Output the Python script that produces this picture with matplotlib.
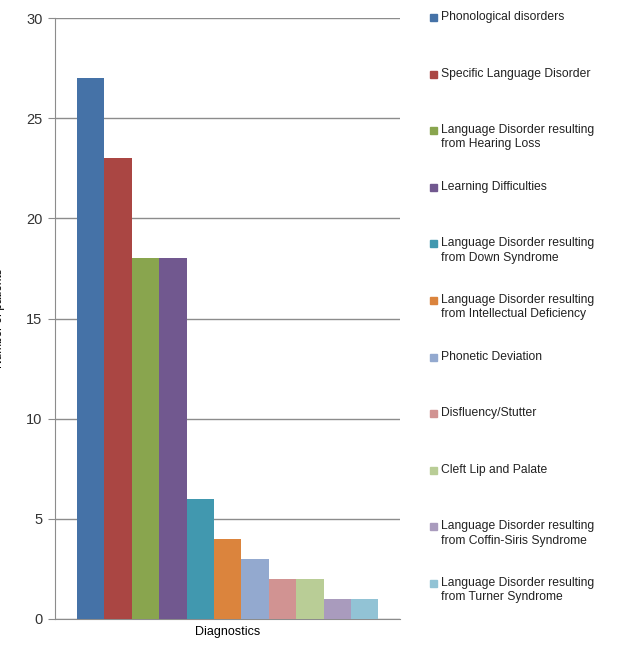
import numpy as np
import matplotlib
matplotlib.use("Agg")
import matplotlib.pyplot as plt
from matplotlib.patches import Rectangle

diagnoses = [
    "Phonological disorders",
    "Specific Language Disorder",
    "Language Disorder resulting\nfrom Hearing Loss",
    "Learning Difficulties",
    "Language Disorder resulting\nfrom Down Syndrome",
    "Language Disorder resulting\nfrom Intellectual Deficiency",
    "Phonetic Deviation",
    "Disfluency/Stutter",
    "Cleft Lip and Palate",
    "Language Disorder resulting\nfrom Coffin-Siris Syndrome",
    "Language Disorder resulting\nfrom Turner Syndrome",
]
patients = [27, 23, 18, 18, 6, 4, 3, 2, 2, 1, 1]
colors = ["#4572A7", "#AA4643", "#89A54E", "#71588F", "#4198AF", "#DB843D",
          "#93A9CF", "#D19392", "#B9CD96", "#A99BBD", "#92C3D5"]

plt.rcParams['font.family'] = ["Liberation Sans", "DejaVu Sans"]
narrow = ["Liberation Sans", "DejaVu Sans"]

fig = plt.figure(figsize=(6.24, 6.48), dpi=100)
ax = fig.add_axes([55 / 624, 29 / 648, 345 / 624, 601 / 648])

# bars side by side in one group
n = len(patients)
w = 27.4
x0 = 22
xs = x0 + w * np.arange(n)
ax.bar(xs, patients, width=w, align='edge', color=colors, zorder=3)
ax.set_xlim(0, 345)
ax.set_ylim(0, 30)
ax.set_yticks(range(0, 31, 5))
ax.set_xticks([])
ax.yaxis.grid(True, color="#8c8c8c", linewidth=1, zorder=0)
for s in ["top", "right"]:
    ax.spines[s].set_visible(False)
ax.spines["left"].set_color("#8c8c8c")
ax.spines["bottom"].set_color("#8c8c8c")
ax.tick_params(axis='y', length=5, color="#8c8c8c", labelsize=10.5,
               labelcolor="#333333", pad=4)
ax.set_xlabel("Diagnostics", family=narrow, fontsize=9, labelpad=5)
ax.set_ylabel("Number of patients", family=narrow, fontsize=8.5, labelpad=15)

# legend on the right, evenly spaced entries
for i, (lab, c) in enumerate(zip(diagnoses, colors)):
    ytop = 11 + i * 56.6
    fig.patches.append(Rectangle((430 / 624, 1 - (ytop + 10) / 648), 7 / 624, 7 / 648,
                                 transform=fig.transFigure, color=c))
    fig.text(441 / 624, 1 - ytop / 648, lab, family=narrow, fontsize=8.7,
             va='top', ha='left', color="#222222", linespacing=1.25)

fig.savefig("out.png", dpi=100)
